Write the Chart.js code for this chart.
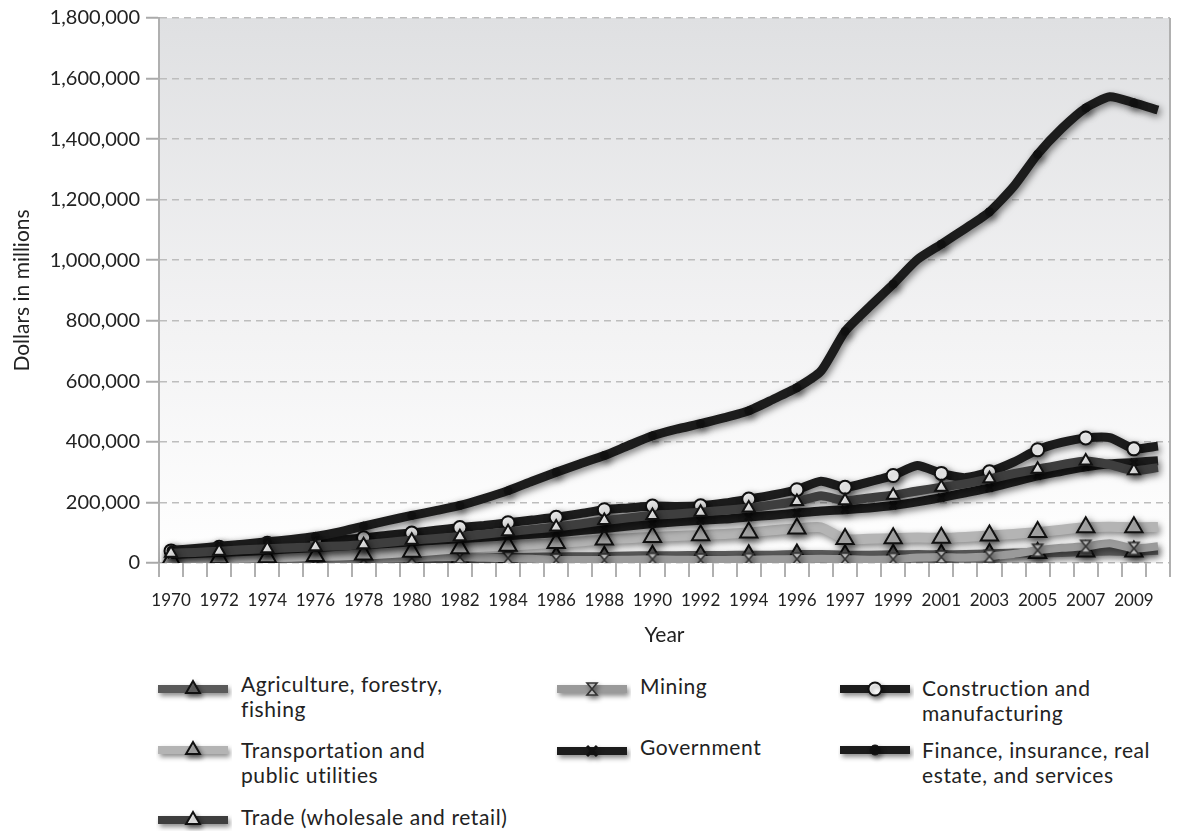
<!DOCTYPE html>
<html><head><meta charset="utf-8">
<script src="https://cdn.jsdelivr.net/npm/chart.js@4.4.1/dist/chart.umd.min.js"></script>
<style>
html,body{margin:0;padding:0;background:#fff;}
#wrap{position:relative;width:1184px;height:831px;font-family:Lato,"Noto Sans","DejaVu Sans",sans-serif;color:#222;overflow:hidden;}
#cw{position:absolute;left:0;top:0;width:1184px;height:660px;}
.sym{position:absolute;}
.lt{position:absolute;font-size:21px;line-height:25px;letter-spacing:0.6px;white-space:nowrap;color:#222;}
</style></head>
<body><div id="wrap"><div id="cw"><canvas id="c"></canvas></div><div id="legend"></div></div>
<script>
// ---- categories (1997 appears twice: SIC basis, then NAICS basis) ----
const yearLabels = ["1970","1971","1972","1973","1974","1975","1976","1977","1978","1979",
  "1980","1981","1982","1983","1984","1985","1986","1987","1988","1989",
  "1990","1991","1992","1993","1994","1995","1996","1997",
  "1997","1998","1999","2000","2001","2002","2003","2004","2005","2006","2007","2008","2009","2010"];

// ---- series values (dollars in millions) ----
const agriculture = [6000,7000,8000,11000,10000,11000,11000,12000,13000,14000,13000,15000,15000,16000,18000,19000,20000,21000,21000,23000,24000,24000,25000,25000,26000,26000,28000,
  28000,26000,26000,27000,28000,27000,28000,30000,33000,33000,35000,38000,40000,38000,42000];
const mining = [4000,5000,6000,7000,8000,9000,10000,11000,12000,14000,16000,19000,20000,17000,16000,14000,10000,10000,10000,11000,12000,11000,10000,10000,11000,12000,13000,
  14000,13000,11000,12000,18000,20000,18000,22000,30000,42000,50000,55000,65000,48000,55000];
const construction = [40000,45000,52000,60000,65000,68000,72000,77000,83000,92000,99000,108000,117000,124000,133000,142000,151000,163000,176000,182000,188000,187000,189000,198000,211000,225000,242000,
  270000,250000,268000,289000,322000,296000,282000,301000,333000,374000,398000,413000,414000,377000,386000];
const transportation = [12000,14000,16000,17000,19000,21000,23000,25000,28000,32000,37000,43000,49000,54000,57000,62000,66000,71000,78000,82000,86000,89000,92000,96000,101000,108000,114000,
  118000,79000,80000,82000,84000,83000,86000,91000,96000,102000,110000,118000,120000,118000,119000];
const government = [28000,31000,35000,38000,42000,47000,51000,55000,60000,64000,70000,75000,80000,85000,90000,95000,100000,107000,114000,122000,130000,136000,141000,145000,152000,158000,165000,
  172000,176000,182000,190000,202000,216000,232000,248000,268000,288000,303000,318000,328000,332000,338000];
const finance = [42000,48000,55000,62000,70000,78000,88000,103000,122000,140000,157000,173000,190000,213000,239000,270000,300000,328000,355000,388000,420000,442000,460000,480000,503000,540000,579000,
  634000,765000,845000,921000,1002000,1053000,1105000,1160000,1243000,1350000,1435000,1503000,1540000,1520000,1496000];
const trade = [32000,35000,39000,44000,47000,50000,54000,56000,60000,68000,75000,81000,87000,95000,103000,111000,119000,129000,140000,149000,157000,162000,168000,174000,182000,192000,203000,
  222000,206000,215000,224000,238000,250000,262000,278000,295000,310000,325000,337000,325000,305000,315000];

const seriesNames = [["Agriculture, forestry,","fishing"],["Mining"],["Construction and","manufacturing"],
  ["Transportation and","public utilities"],["Government"],["Finance, insurance, real","estate, and services"],
  ["Trade (wholesale and retail)"]];
const yTicks = [0,200000,400000,600000,800000,1000000,1200000,1400000,1600000,1800000];

// ---- marker image for Mining (hourglass) ----
function hourglass(){
  const c=document.createElement('canvas'); c.width=16; c.height=16;
  const g=c.getContext('2d');
  g.beginPath(); g.moveTo(3,2); g.lineTo(13,2); g.lineTo(3,14); g.lineTo(13,14); g.closePath();
  g.fillStyle='#b8b8b8'; g.fill(); g.lineWidth=1.6; g.strokeStyle='#333'; g.stroke();
  return c;
}
const hg = hourglass();

const styles = [
  {line:'#5a5a5a', ps:'triangle', r:10, lr:8, fill:'#6a6a6a', stroke:'#111', bw:2, w:9},
  {line:'#9a9a9a', ps:hg, r:8, lr:8, fill:'#b8b8b8', stroke:'#333', bw:1, w:8},
  {line:'#1c1c1c', ps:'circle', r:6.5, lr:6.5, fill:'#ffffff', stroke:'#111', bw:2, w:9},
  {line:'#b4b4b4', ps:'triangle', r:10, lr:8, fill:'#b8b8b8', stroke:'#111', bw:2, w:10},
  {line:'#1c1c1c', ps:'crossRot', r:5, lr:5, fill:'#111', stroke:'#111', bw:3, w:9},
  {line:'#1c1c1c', ps:'circle', r:4, lr:5, fill:'#111', stroke:'#111', bw:1, w:9},
  {line:'#3e3e3e', ps:'triangle', r:7, lr:8, fill:'#ffffff', stroke:'#111', bw:2, w:9}
];
const values = [agriculture, mining, construction, transportation, government, finance, trade];

const datasets = values.map((v,i)=>({
  label: seriesNames[i].join(' '),
  data: v,
  borderColor: styles[i].line,
  borderWidth: styles[i].w,
  backgroundColor: styles[i].fill,
  pointBackgroundColor: styles[i].fill,
  pointBorderColor: styles[i].stroke,
  pointBorderWidth: styles[i].bw,
  pointStyle: styles[i].ps,
  pointRadius: (ctx)=> (ctx.dataIndex % 2 === 0 ? styles[i].r : 0),
  pointHoverRadius: 0,
  tension: 0.2,
  fill: false,
  order: 7 - i,
  borderJoinStyle: 'round',
  borderCapStyle: 'butt'
}));

const decor = {
  id: 'decor',
  beforeDraw(chart){
    const {ctx, chartArea:a} = chart;
    const g = ctx.createLinearGradient(0,a.top,0,a.bottom);
    g.addColorStop(0,'#dfe0e2'); g.addColorStop(0.55,'#f2f2f3'); g.addColorStop(1,'#ffffff');
    ctx.save(); ctx.fillStyle=g; ctx.fillRect(a.left,a.top,a.right-a.left,a.bottom-a.top); ctx.restore();
  },
  beforeDatasetsDraw(chart){
    const ctx=chart.ctx; ctx.save();
    ctx.shadowColor='rgba(0,0,0,0.5)'; ctx.shadowBlur=7; ctx.shadowOffsetX=2; ctx.shadowOffsetY=3;
  },
  afterDatasetsDraw(chart){
    const ctx=chart.ctx; ctx.restore();
    const a=chart.chartArea;
    ctx.save(); ctx.strokeStyle='#b0b0b0'; ctx.lineWidth=2;
    ctx.beginPath(); ctx.moveTo(a.right, a.top); ctx.lineTo(a.right, a.bottom+14); ctx.stroke(); ctx.restore();
  }
};

const FONT = 'Lato, "Noto Sans", "DejaVu Sans", sans-serif';
new Chart(document.getElementById('c'), {
  type: 'line',
  data: { labels: yearLabels, datasets },
  plugins: [decor],
  options: {
    responsive: true, maintainAspectRatio: false, animation: false, events: [],
    layout: { padding: { top: 16, right: 14, left: 0, bottom: 0 } },
    plugins: { legend: { display: false }, tooltip: { enabled: false } },
    scales: {
      x: {
        offset: true,
        grid: { offset: true, drawOnChartArea: false, drawTicks: true, tickLength: 14, color: '#b0b0b0', lineWidth: 2 },
        border: { display: false },
        ticks: { autoSkip: false, maxRotation: 0, minRotation: 0, padding: 13, color: '#222',
          font: { family: FONT, size: 17 }, callback: (v,i)=> (i % 2 === 0 ? yearLabels[i] : '') },
        title: { display: true, text: 'Year', color: '#222', font: { family: FONT, size: 21 }, padding: { top: 6, bottom: 12 } },
        afterFit(s){ s.height = 97; }
      },
      y: {
        min: 0, max: 1800000,
        afterBuildTicks(s){ s.ticks = yTicks.map(v=>({value:v})); },
        ticks: { color: '#222', font: { family: FONT, size: 20 }, padding: 6,
          callback: v => Number(v).toLocaleString('en-US') },
        grid: { color: '#bdbdbd', lineWidth: 1.5, tickLength: 13, tickColor: '#aaaaaa', tickBorderDash: [], tickWidth: 2 },
        border: { display: true, color: '#b0b0b0', width: 2, dash: [7,5] },
        title: { display: true, text: 'Dollars in millions', color: '#222', font: { family: FONT, size: 21 }, padding: { top: 10, bottom: 0 } },
        afterFit(s){ s.width = 159; }
      }
    }
  }
});

// ---- HTML legend ----
const legendPos = [
  {sx:158, sy:689, tx:241, ty:671},
  {sx:557, sy:689, tx:640, ty:673},
  {sx:840, sy:689, tx:922, ty:675},
  {sx:158, sy:750, tx:241, ty:737},
  {sx:557, sy:751, tx:640, ty:734},
  {sx:840, sy:750, tx:922, ty:737},
  {sx:158, sy:820, tx:241, ty:804}
];
function drawMarker(g, st, x, y){
  g.fillStyle=st.fill; g.strokeStyle=st.stroke; g.lineWidth=st.bw;
  const r=st.lr;
  if (st.ps === 'triangle'){
    g.beginPath();
    g.moveTo(x, y - r);
    g.lineTo(x + r*Math.sin(Math.PI/3), y + r*0.5);
    g.lineTo(x - r*Math.sin(Math.PI/3), y + r*0.5);
    g.closePath(); g.fill(); g.stroke();
  } else if (st.ps === 'circle'){
    g.beginPath(); g.arc(x,y,r,0,Math.PI*2); g.fill(); g.stroke();
  } else if (st.ps === 'crossRot'){
    g.beginPath(); g.moveTo(x-r,y-r); g.lineTo(x+r,y+r); g.moveTo(x+r,y-r); g.lineTo(x-r,y+r); g.stroke();
  } else {
    g.drawImage(st.ps, x-8, y-8);
  }
}
const lg = document.getElementById('legend');
styles.forEach((st,i)=>{
  const p = legendPos[i];
  const c = document.createElement('canvas'); c.width=76; c.height=30; c.className='sym';
  c.style.left=(p.sx-2)+'px'; c.style.top=(p.sy-15)+'px';
  const g = c.getContext('2d');
  g.save(); g.shadowColor='rgba(0,0,0,0.45)'; g.shadowBlur=5; g.shadowOffsetX=2; g.shadowOffsetY=3;
  g.strokeStyle=st.line; g.lineWidth=8; g.beginPath(); g.moveTo(2,15); g.lineTo(72,15); g.stroke();
  drawMarker(g, st, 37, 15);
  g.restore();
  lg.appendChild(c);
  const t = document.createElement('div'); t.className='lt';
  t.style.left=p.tx+'px'; t.style.top=p.ty+'px';
  t.innerHTML = seriesNames[i].join('<br>');
  lg.appendChild(t);
});
</script>
</body></html>
